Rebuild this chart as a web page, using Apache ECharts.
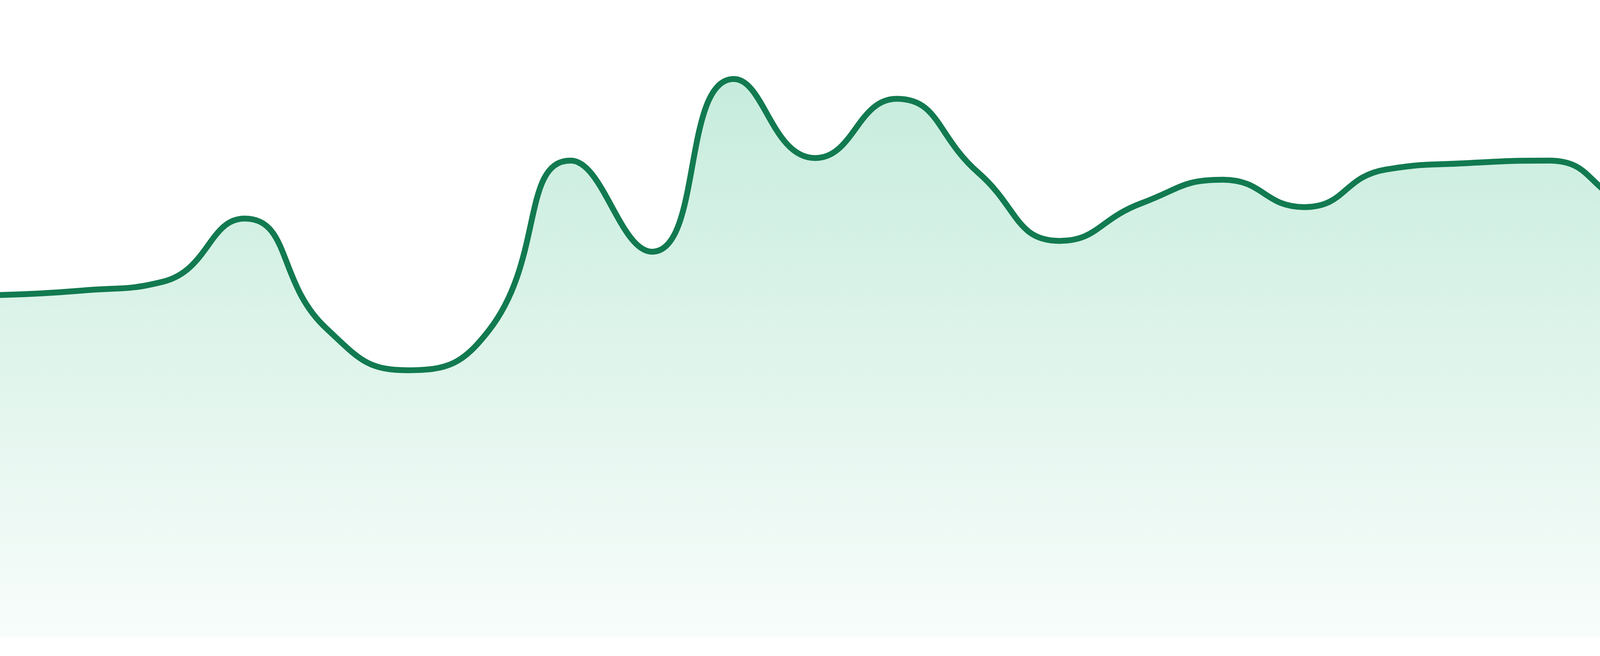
<!DOCTYPE html>
<html>
<head>
<meta charset="utf-8">
<script src="https://cdn.jsdelivr.net/npm/echarts@6/dist/echarts.min.js"></script>
<style>
  html, body { margin: 0; padding: 0; background: #ffffff; }
  #chart { width: 4800px; height: 1680px; }
</style>
</head>
<body>
<div id="chart"></div>
<script>
// Categories (axis hidden in the reference)
var categories = ['1','2','3','4','5','6','7','8','9','10','11','12',
                  '13','14','15','16','17','18','19','20','21','22','23','24'];
// Series values
var values = [53.7, 54.4, 55.8, 65.7, 48.5, 41.9, 48.2, 74.8, 60.5, 87.6, 75.2, 84.5,
              72.9, 62.2, 68.1, 71.8, 67.5, 73.4, 74.4, 74.8, 67.8, 65.4, 69.9, 66.3];
// Value axis range
var yMin = 0;
var yMax = 100;

var chart = echarts.init(document.getElementById('chart'), null, { renderer: 'canvas' });
chart.setOption({
  animation: false,
  backgroundColor: '#ffffff',
  grid: { left: 0, right: 0, top: 0, bottom: 48, containLabel: false },
  xAxis: {
    type: 'category',
    data: categories,
    boundaryGap: false,
    show: false
  },
  yAxis: {
    type: 'value',
    min: yMin,
    max: yMax,
    show: false,
    splitLine: { show: false }
  },
  series: [{
    type: 'line',
    data: values,
    smooth: true,
    showSymbol: false,
    symbol: 'none',
    lineStyle: { color: '#127a50', width: 15 },
    itemStyle: { color: '#127a50' },
    areaStyle: {
      color: new echarts.graphic.LinearGradient(0, 0, 0, 1, [
        { offset: 0, color: 'rgba(53,187,132,0.40)' },
        { offset: 1, color: 'rgba(53,187,132,0.05)' }
      ])
    }
  }]
});
</script>
</body>
</html>
